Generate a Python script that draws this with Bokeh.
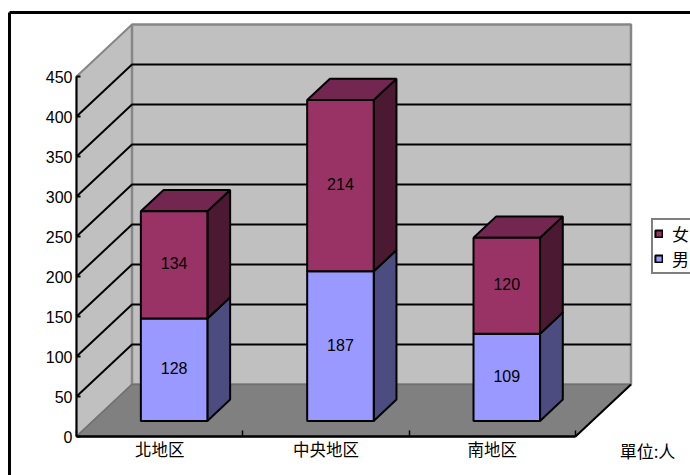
from bokeh.core.properties import value
from bokeh.embed import file_html
from bokeh.models import FixedTicker, Legend, LegendItem, LinearAxis, Range1d
from bokeh.plotting import figure
from bokeh.resources import INLINE

# Headcount per region, stacked by gender
regions = ["北地区", "中央地区", "南地区"]
male = [128, 187, 109]
female = [134, 214, 120]
y_ticks = [0, 50, 100, 150, 200, 250, 300, 350, 400, 450]
unit_label = "單位:人"

WIDTH, HEIGHT = 690, 475
PX_PER_REGION = 166.33
PX_PER_PERSON = 0.8
ORIGIN_X, ORIGIN_Y = 76, 436

# Oblique projection: full box depth expressed in axis units
DEPTH_X = 55.5 / PX_PER_REGION
DEPTH_Y = 52 / PX_PER_PERSON
BAR_HALF_WIDTH = 0.2
BAR_SHIFT = -2.2 / PX_PER_REGION
BAR_FRONT, BAR_BACK = 0.30, 0.71
Y_MAX = y_ticks[-1]
N = len(regions)

C_WALL, C_FLOOR, C_EDGE = "#c0c0c0", "#808080", "#868686"
C_F_FRONT, C_F_SIDE, C_F_TOP = "#993366", "#4c1933", "#732650"
C_M_FRONT, C_M_SIDE = "#9999ff", "#4c4c80"
NUM_FONT = "Liberation Sans"
CJK_FONT = "Noto Sans CJK TC"


def px_x(px):
    return (px - ORIGIN_X) / PX_PER_REGION


def px_y(px):
    return (ORIGIN_Y - px) / PX_PER_PERSON


def proj(x, y, d):
    """Project an (x, y, depth) point onto the drawing plane."""
    return x + d * DEPTH_X, y + d * DEPTH_Y


def poly(*pts):
    projected = [proj(*pt) for pt in pts]
    return [pt[0] for pt in projected], [pt[1] for pt in projected]


p = figure(
    width=WIDTH, height=HEIGHT,
    x_range=Range1d(px_x(0), px_x(WIDTH)),
    y_range=Range1d(px_y(HEIGHT), px_y(0)),
    x_axis_location=None, y_axis_location=None,
    min_border=0, output_backend="svg", toolbar_location=None,
)
p.grid.visible = False
p.outline_line_color = None
p.background_fill_color = "white"
p.border_fill_color = "white"

# Chart area border: only the top and left rules fall inside the page
p.line([px_x(9), px_x(9)], [px_y(HEIGHT), px_y(12)], line_color="black", line_width=3)
p.line([px_x(9), px_x(WIDTH)], [px_y(12), px_y(12)], line_color="black", line_width=3)

# Box walls and floor
xs, ys = poly((0, 0, 0), (0, Y_MAX, 0), (0, Y_MAX, 1), (0, 0, 1))
p.patch(xs, ys, fill_color=C_WALL, line_color=C_EDGE, line_width=2)
xs, ys = poly((0, 0, 1), (0, Y_MAX, 1), (N, Y_MAX, 1), (N, 0, 1))
p.patch(xs, ys, fill_color=C_WALL, line_color=C_EDGE, line_width=2.5)
xs, ys = poly((0, 0, 0), (0, 0, 1), (N, 0, 1), (N, 0, 0))
p.patch(xs, ys, fill_color=C_FLOOR, line_color="#707070", line_width=1.5)
xs, ys = poly((N, 0, 0), (N, 0, 1))
p.line(xs, ys, line_color="black", line_width=2)

# Gridlines run across the left wall and along the back wall
for tick in y_ticks[1:-1]:
    xs, ys = poly((0, tick, 0), (0, tick, 1), (N, tick, 1))
    p.line(xs, ys, line_color="black", line_width=2)


def bar_faces(i, low, high):
    x0 = i + 0.5 - BAR_HALF_WIDTH + BAR_SHIFT
    x1 = i + 0.5 + BAR_HALF_WIDTH + BAR_SHIFT
    front = poly((x0, low, BAR_FRONT), (x1, low, BAR_FRONT), (x1, high, BAR_FRONT), (x0, high, BAR_FRONT))
    side = poly((x1, low, BAR_FRONT), (x1, low, BAR_BACK), (x1, high, BAR_BACK), (x1, high, BAR_FRONT))
    top = poly((x0, high, BAR_FRONT), (x1, high, BAR_FRONT), (x1, high, BAR_BACK), (x0, high, BAR_BACK))
    return front, side, top


def draw_series(lows, highs, front_color, side_color, top_color):
    faces = [bar_faces(i, lows[i], highs[i]) for i in range(N)]
    front_r = None
    for idx, color in ((1, side_color), (2, top_color), (0, front_color)):
        r = p.patches(
            [f[idx][0] for f in faces], [f[idx][1] for f in faces],
            fill_color=color, line_color="black", line_width=2,
        )
        if idx == 0:
            front_r = r
    return front_r


stack_top = [m + f for m, f in zip(male, female)]
male_r = draw_series([0] * N, male, C_M_FRONT, C_M_SIDE, C_M_FRONT)
female_r = draw_series(male, stack_top, C_F_FRONT, C_F_SIDE, C_F_TOP)

# Value labels centred on each front face
label_x, label_y, label_t = [], [], []
for i in range(N):
    for low, val in ((0, male[i]), (male[i], female[i])):
        lx, ly = proj(i + 0.5 + BAR_SHIFT, low + val / 2, BAR_FRONT)
        label_x.append(lx)
        label_y.append(ly + 1.5 / PX_PER_PERSON)
        label_t.append(str(val))
p.text(label_x, label_y, text=label_t, text_align="center", text_baseline="middle",
       text_font=value(NUM_FONT), text_font_size="16px", text_color="black")

# Value axis on the front-left edge
y_axis = LinearAxis(
    fixed_location=0, bounds=(0, Y_MAX), ticker=FixedTicker(ticks=y_ticks),
    major_tick_in=4, major_tick_out=0, minor_tick_line_color=None,
    axis_line_color="black", axis_line_width=2, major_tick_line_color="black",
    major_tick_line_width=2, major_label_standoff=4,
    major_label_text_font=NUM_FONT, major_label_text_font_size="16px",
    major_label_text_color="black",
)
p.add_layout(y_axis, "left")

# Category axis: ticks sit between regions, names sit at region centres
tick_positions = list(range(N + 1))
x_ticks = LinearAxis(
    fixed_location=0, bounds=(0, N), ticker=FixedTicker(ticks=tick_positions),
    major_label_overrides={t: "" for t in tick_positions},
    major_tick_in=6, major_tick_out=0, minor_tick_line_color=None,
    axis_line_color="black", axis_line_width=2.5, major_tick_line_color="black",
    major_tick_line_width=1.5,
)
p.add_layout(x_ticks, "below")
centres = [i + 0.5 for i in range(N)]
x_names = LinearAxis(
    fixed_location=0, bounds=(0, N), ticker=FixedTicker(ticks=centres),
    major_label_overrides=dict(zip(centres, regions)),
    major_tick_in=0, major_tick_out=0, minor_tick_line_color=None,
    axis_line_color=None, major_label_standoff=0,
    major_label_text_font=CJK_FONT, major_label_text_font_size="16.5px",
    major_label_text_color="black",
)
p.add_layout(x_names, "below")

p.text([px_x(647)], [px_y(450)], text=[unit_label], text_align="center", text_baseline="middle",
       text_font=value(CJK_FONT), text_font_size="17px", text_color="black")

legend = Legend(
    items=[LegendItem(label="女", renderers=[female_r]), LegendItem(label="男", renderers=[male_r])],
    location=(651, HEIGHT - 274), orientation="vertical", margin=0, padding=1, spacing=0,
    glyph_width=9, glyph_height=9, label_standoff=9, label_height=20, label_width=18,
    label_text_font=CJK_FONT, label_text_font_size="17px", label_text_color="black",
    label_text_line_height=1.0,
    border_line_color="black", border_line_width=2, background_fill_color="white",
    background_fill_alpha=1,
)
p.add_layout(legend, "center")

open("out.html", "w").write(file_html(p, INLINE))
